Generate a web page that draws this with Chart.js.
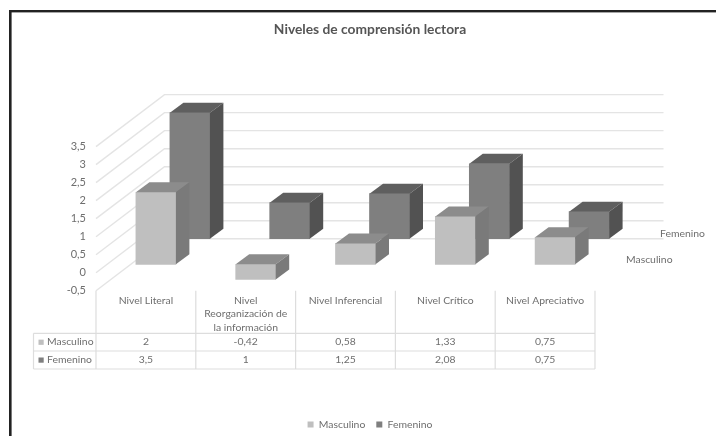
<!DOCTYPE html>
<html><head><meta charset="utf-8">
<style>html,body{margin:0;padding:0;background:#fff}#w{width:716px;height:436px;position:relative}</style>
<script src="https://cdn.jsdelivr.net/npm/chart.js@4/dist/chart.umd.js"></script>
</head><body><div id="w"><canvas id="c" width="716" height="436"></canvas></div>
<script>
const categories = [["Nivel Literal"],["Nivel","Reorganización de","la información"],["Nivel Inferencial"],["Nivel Crítico"],["Nivel Apreciativo"]];
const masculino = [2,-0.42,0.58,1.33,0.75];
const femenino = [3.5,1,1.25,2.08,0.75];
const yTickLabels = ["-0,5","0","0,5","1","1,5","2","2,5","3","3,5"];
const chartTitle = "Niveles de comprensión lectora";

const FONT = "Lato";
const TEXT = "#6e6e6e";
const GRID = "#e4e4e4";
const LINE = "#dddddd";
const depth = [
  {dx:10, dy:-8.4, top:"#8c8c8c", side:"#7a7a7a"},
  {dx:44, dy:-34, top:"#5f5f5f", side:"#525252"}
];
const cap = {dx:13.5, dy:-10};
const wall = {dx:68.5, dy:-52};
const fmt = v => String(v).replace(".",",");

const look = {
  id:"look",
  beforeDraw(ch){
    const c=ch.ctx; c.save();
    c.fillStyle="#fff"; c.fillRect(0,0,716,436);
    c.fillStyle="#222"; c.fillRect(9,10,2.6,426); c.fillRect(9,10,707,2.4);
    c.restore();
  },
  beforeDatasetsDraw(ch){
    const c=ch.ctx, y=ch.scales.y, x=ch.scales.x; c.save();
    c.strokeStyle=GRID; c.lineWidth=1.4;
    y.ticks.forEach(t=>{
      const p=y.getPixelForValue(t.value);
      c.beginPath(); c.moveTo(x.left,p); c.lineTo(x.left+wall.dx,p+wall.dy); c.lineTo(x.right+wall.dx,p+wall.dy); c.stroke();
    });
    c.restore();
    drawTable(ch);
  },
  beforeDatasetDraw(ch,a){
    const d=depth[a.index]; ch.ctx.save(); ch.ctx.translate(d.dx,d.dy);
  },
  afterDatasetDraw(ch,a){
    const c=ch.ctx, d=depth[a.index];
    a.meta.data.forEach(b=>{
      const l=b.x-b.width/2, r=b.x+b.width/2, t=Math.min(b.y,b.base), u=Math.max(b.y,b.base);
      c.fillStyle=d.top; c.beginPath(); c.moveTo(l,t); c.lineTo(l+cap.dx,t+cap.dy); c.lineTo(r+cap.dx,t+cap.dy); c.lineTo(r,t); c.closePath(); c.fill();
      c.fillStyle=d.side; c.beginPath(); c.moveTo(r,t); c.lineTo(r+cap.dx,t+cap.dy); c.lineTo(r+cap.dx,u+cap.dy); c.lineTo(r,u); c.closePath(); c.fill();
    });
    c.restore();
  },
  afterDatasetsDraw(ch){
    const c=ch.ctx, x=ch.scales.x, y=ch.scales.y; c.save();
    c.fillStyle=TEXT; c.font="10.4px "+FONT; c.textBaseline="middle"; c.textAlign="left";
    const z=y.getPixelForValue(0);
    c.fillText(ch.data.datasets[1].label, x.right+65, z+depth[1].dy-4.7);
    c.fillText(ch.data.datasets[0].label, x.right+31, z+depth[0].dy-4.3);
    c.restore();
  }
};

function drawTable(ch){
  const c=ch.ctx, x=ch.scales.x, rows=[333.3,351,369], left=33.5;
  const step=(x.right-x.left)/categories.length;
  c.save(); c.strokeStyle=LINE; c.lineWidth=1.2;
  rows.forEach(r=>{c.beginPath();c.moveTo(left,r);c.lineTo(x.right,r);c.stroke();});
  for(let i=0;i<=categories.length;i++){
    const p=x.left+i*step; c.beginPath();c.moveTo(p,x.top);c.lineTo(p,rows[2]);c.stroke();
  }
  c.beginPath();c.moveTo(left,rows[0]);c.lineTo(left,rows[2]);c.stroke();
  c.font="10.4px "+FONT; c.textBaseline="middle";
  ch.data.datasets.forEach((ds,k)=>{
    const m=(rows[k]+rows[k+1])/2;
    c.fillStyle=ds.backgroundColor; c.fillRect(38.5,m-2.5,5.2,5.2);
    c.fillStyle=TEXT; c.textAlign="left"; c.fillText(ds.label,47,m);
    c.textAlign="center";
    ds.data.forEach((v,i)=>c.fillText(fmt(v),x.getPixelForValue(i),m));
  });
  c.restore();
}

new Chart(document.getElementById("c"),{
  type:"bar",
  data:{labels:categories,datasets:[
    {label:"Masculino",data:masculino,backgroundColor:"#bfbfbf",clip:false},
    {label:"Femenino",data:femenino,backgroundColor:"#7f7f7f",clip:false}
  ]},
  plugins:[look],
  options:{
    responsive:false,animation:false,devicePixelRatio:1,
    grouped:false,barThickness:40,borderWidth:0,
    layout:{padding:{left:24,right:0,top:0,bottom:-3.7}},
    scales:{
      x:{grid:{display:false,drawTicks:false},border:{display:false},
         ticks:{font:{family:FONT,size:10.4,lineHeight:1.3},color:TEXT,padding:3,maxRotation:0,autoSkip:false},
         afterFit(s){s.height=117.6;}},
      y:{min:-0.5,max:3.5,grid:{display:false,drawTicks:false},border:{display:false},
         ticks:{stepSize:0.5,font:{family:FONT,size:11},color:TEXT,padding:10,callback:(v,i)=>yTickLabels[i]},
         afterFit(s){s.width=72;}},
      pad:{type:"linear",position:"right",grid:{display:false},border:{display:false},ticks:{display:false},
         afterFit(s){s.width=121;}}
    },
    plugins:{
      tooltip:{enabled:false},
      title:{display:true,text:chartTitle,color:"#555",font:{family:FONT,size:13.8,weight:"bold",lineHeight:1.2},padding:{top:21.7,bottom:108.4}},
      legend:{display:true,position:"bottom",labels:{font:{family:FONT,size:10.4},color:TEXT,boxWidth:6,boxHeight:6,padding:11}}
    }
  }
});
</script></body></html>
